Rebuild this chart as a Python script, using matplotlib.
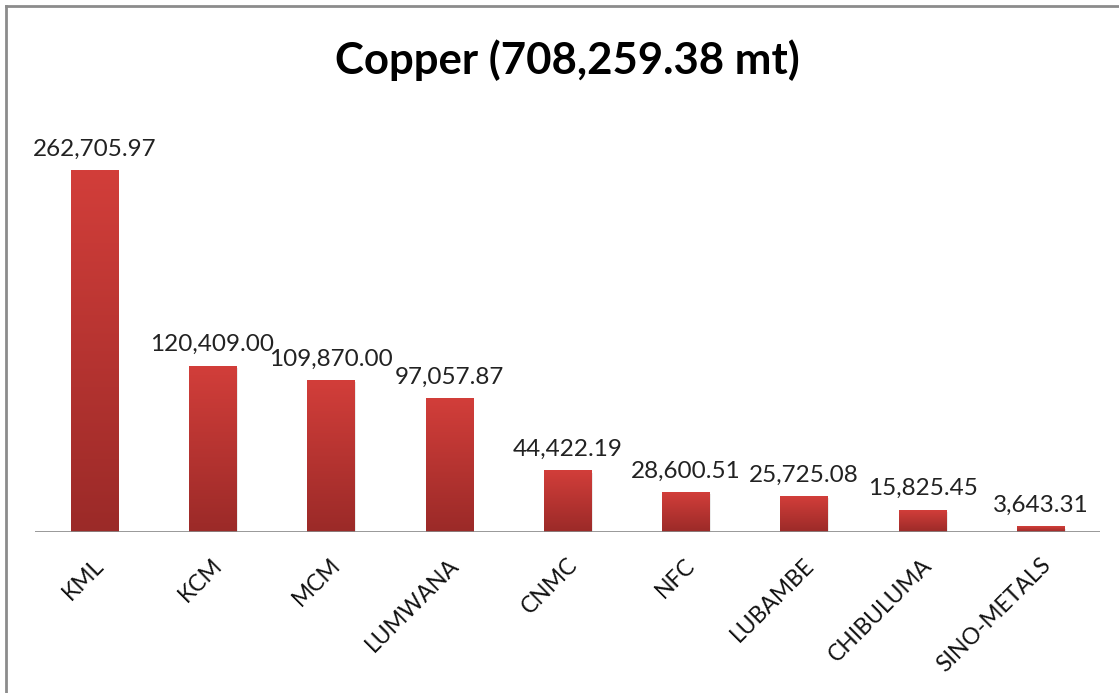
import matplotlib.pyplot as plt
import numpy as np
from matplotlib.colors import LinearSegmentedColormap
from matplotlib.lines import Line2D

mines = ['KML', 'KCM', 'MCM', 'LUMWANA', 'CNMC', 'NFC', 'LUBAMBE', 'CHIBULUMA', 'SINO-METALS']
copper = [262705.97, 120409.00, 109870.00, 97057.87, 44422.19, 28600.51, 25725.08, 15825.45, 3643.31]
title = 'Copper (708,259.38 mt)'

plt.rcParams['font.family'] = ['Lato', 'DejaVu Sans']

fig = plt.figure(figsize=(11.19, 6.93), dpi=100)
ax = fig.add_axes([0.0313, 0.2323, 0.9517, 0.5957])

x = np.arange(len(mines))
w = 0.4
grad = LinearSegmentedColormap.from_list('red_grad', ['#9b2a28', '#d23e3a'])
g = np.linspace(0, 1, 256).reshape(-1, 1)

for xi, val in zip(x, copper):
    # faint shadow like the Excel style
    ax.bar(xi + 0.012, val, width=w, bottom=-1200, color='#000000', alpha=0.08, zorder=1)
    ax.imshow(g, cmap=grad, origin='lower', aspect='auto',
              extent=(xi - w / 2, xi + w / 2, 0, val), zorder=3)
    ax.text(xi, val + 8000, f'{val:,.2f}', ha='center', va='bottom', fontsize=17.5,
            color='#222222', zorder=4)

ax.set_xlim(-0.5, len(mines) - 0.5)
ax.set_ylim(0, 300000)
for s in ax.spines.values():
    s.set_visible(False)
ax.axhline(0, color='#888888', lw=1.2, zorder=5)
ax.set_yticks([])
ax.set_xticks(x)
ax.set_xticklabels([])
ax.tick_params(axis='x', length=0)

for xi, name in zip(x, mines):
    ax.annotate(name, xy=(xi, 0), xycoords='data', xytext=(4.5, -21.5), textcoords='offset points',
                rotation=45, ha='right', va='center', rotation_mode='anchor', fontsize=16.5,
                color='#111111')

fig.text(0.507, 0.913, title, ha='center', va='center', fontsize=31.5, fontweight='bold', color='black')

# border on top and left edges
fig.add_artist(Line2D([0.0058, 0.0058], [0, 0.991], transform=fig.transFigure, color='#8c8c8c', lw=2))
fig.add_artist(Line2D([0.0058, 1], [0.991, 0.991], transform=fig.transFigure, color='#8c8c8c', lw=2))

fig.savefig('out.png', dpi=100)
